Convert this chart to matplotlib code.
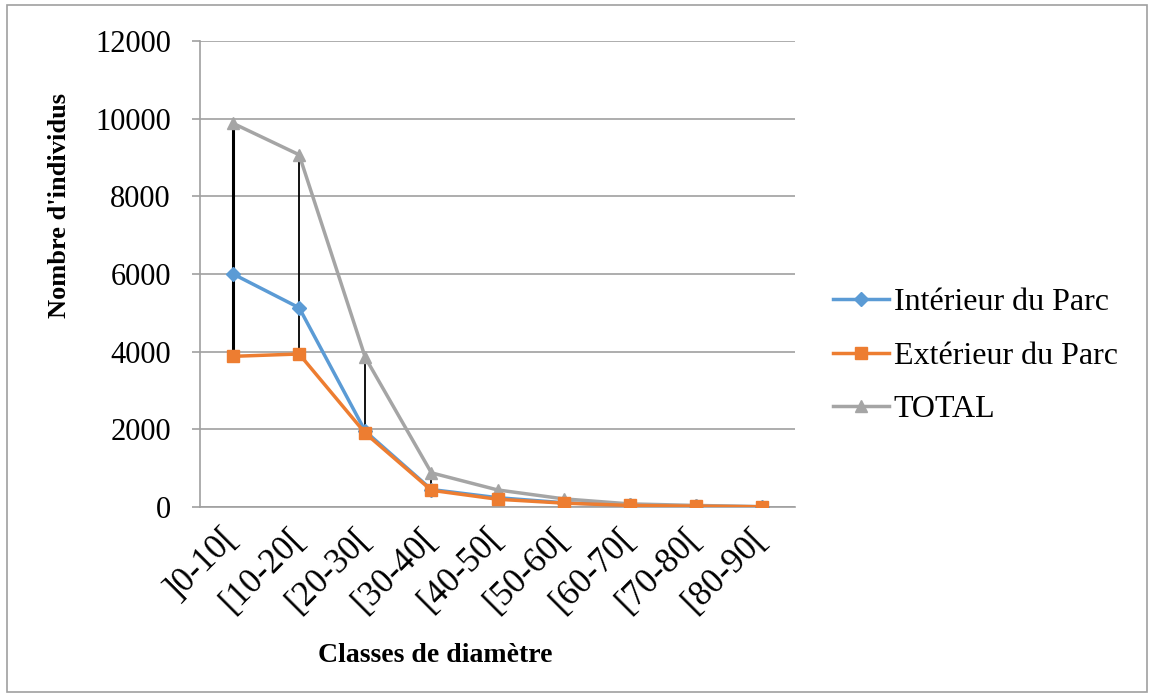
import matplotlib.pyplot as plt
import numpy as np
from matplotlib.patches import Rectangle
from matplotlib.transforms import ScaledTranslation

plt.rcParams['font.family'] = ['Liberation Serif', 'DejaVu Serif']

classes = [']0-10[', '[10-20[', '[20-30[', '[30-40[', '[40-50[',
           '[50-60[', '[60-70[', '[70-80[', '[80-90[']
interieur = [6000, 5130, 1950, 450, 240, 110, 40, 20, 5]
exterieur = [3880, 3940, 1900, 430, 200, 100, 40, 20, 5]
total = [9880, 9070, 3850, 880, 440, 210, 80, 40, 10]

c_int = '#5B9BD5'
c_ext = '#ED7D31'
c_tot = '#A5A5A5'
grid_c = '#A0A0A0'

W, H = 1151, 697
fig = plt.figure(figsize=(W / 100, H / 100), dpi=100)
ax = fig.add_axes([200 / W, 1 - 507 / H, 595 / W, 466 / H])

x = np.arange(len(classes))

# high-low lines (black) between min and max of the series
lo = np.minimum(np.minimum(interieur, exterieur), total)
hi = np.maximum(np.maximum(interieur, exterieur), total)
lw_hl = [2.2, 1.3, 1.3, 1.3, 1.3, 1.3, 1.3, 1.3, 1.3]
ax.vlines(x, lo, hi, colors='black', linewidth=lw_hl, zorder=2)

ax.plot(x, interieur, color=c_int, marker='D', markersize=7, linewidth=2.5,
        label='Intérieur du Parc', zorder=3)
ax.plot(x, exterieur, color=c_ext, marker='s', markersize=9, linewidth=2.5,
        label='Extérieur du Parc', zorder=4)
ax.plot(x, total, color=c_tot, marker='^', markersize=9, linewidth=2.5,
        label='TOTAL', zorder=3)

ax.set_xlim(-0.5, len(classes) - 0.5)
ax.set_ylim(0, 12000)
ax.set_yticks(np.arange(0, 12001, 2000))
ax.set_xticks(x)
ax.set_xticklabels(classes, rotation=45, ha='right', va='center',
                   rotation_mode='anchor', fontsize=25)
shift = ScaledTranslation(12 / 100, 0, fig.dpi_scale_trans)
for lab in ax.get_xticklabels():
    lab.set_transform(lab.get_transform() + shift)
ax.tick_params(axis='y', labelsize=22, length=6, color=grid_c, width=1.2, pad=15)
ax.tick_params(axis='x', length=0, pad=19)

ax.grid(axis='y', color=grid_c, linewidth=1.2)
ax.set_axisbelow(True)
for s in ['top', 'right']:
    ax.spines[s].set_visible(False)
for s in ['left', 'bottom']:
    ax.spines[s].set_color(grid_c)
    ax.spines[s].set_linewidth(1.2)

ax.set_ylabel("Nombre d'individus", fontsize=19, fontweight='bold')
ax.yaxis.set_label_coords((60 - 200) / 595, (507 - 205) / 466)
ax.set_xlabel('Classes de diamètre', fontsize=20, fontweight='bold')
ax.xaxis.set_label_coords((435 - 200) / 595, -(655 - 507) / 466)
ax.xaxis.label.set_va('center')
ax.yaxis.label.set_va('center')

fig.legend(loc='center left', bbox_to_anchor=(833 / W, 1 - 356 / H),
           frameon=False, fontsize=23, handlelength=1.75, handletextpad=0.15,
           labelspacing=0.75, borderpad=0, borderaxespad=0)

fig.patches.append(Rectangle((7 / W, 5 / H), 1140 / W, 687 / H,
                             transform=fig.transFigure, fill=False,
                             edgecolor=grid_c, linewidth=1.2))

fig.savefig('out.png', dpi=100)
